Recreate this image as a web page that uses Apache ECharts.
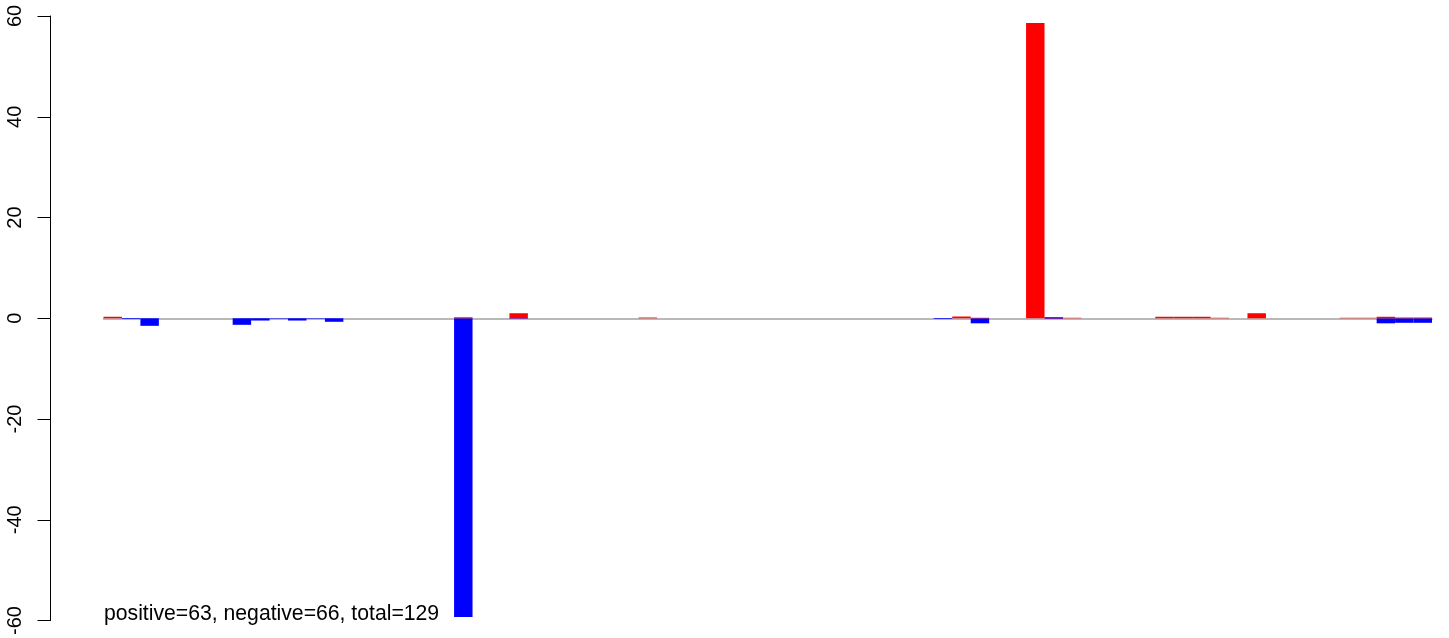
<!DOCTYPE html>
<html>
<head>
<meta charset="utf-8">
<script src="https://cdn.jsdelivr.net/npm/echarts@6/dist/echarts.min.js"></script>
<style>
html,body{margin:0;padding:0;background:#fff;}
#chart{width:1449px;height:638px;}
</style>
</head>
<body>
<div id="chart"></div>
<script>
// 72 bar slots along the x axis (no labels shown)
const slots = Array.from({length: 72}, (_, i) => String(i + 1));
// positive values (red) per slot
const positiveValues = [
  0.3, 0, 0, 0, 0, 0, 0, 0, 0, 0,
  0, 0, 0, 0, 0, 0, 0, 0, 0, 0.2,
  0, 0, 1.0, 0, 0, 0, 0, 0, 0, 0.15,
  0, 0, 0, 0, 0, 0, 0, 0, 0, 0,
  0, 0, 0, 0, 0, 0, 0.35, 0.1, 0, 0,
  58.6, 0.25, 0.1, 0, 0, 0, 0, 0.3, 0.3, 0.3,
  0.1, 0, 1.0, 0, 0, 0, 0, 0.1, 0.1, 0.3,
  0.15, 0.15
];
// negative values (blue) per slot
const negativeValues = [
  0, -0.15, -1.5, 0, 0, 0, 0, -1.3, -0.45, -0.1,
  -0.45, -0.1, -0.7, 0, 0, 0, 0, 0, 0, -59.3,
  0, 0, -0.1, 0, 0, 0, 0, 0, 0, 0,
  0, 0, 0, 0, 0, 0, 0, 0, 0, 0,
  0, 0, 0, 0, 0, -0.15, 0, -1.0, 0, 0,
  0, -0.15, 0, 0, 0, 0, 0, 0, 0, 0,
  0, 0, 0, 0, 0, 0, 0, 0, 0, -1.0,
  -0.9, -0.9
];
const yTicks = [-60, -40, -20, 0, 20, 40, 60];
const noteText = 'positive=63, negative=66, total=129';

const chart = echarts.init(document.getElementById('chart'), null, {renderer: 'canvas'});
const FONT = '"Liberation Sans", Arial, Helvetica, sans-serif';
chart.setOption({
  animation: false,
  backgroundColor: '#ffffff',
  grid: {left: 103.5, right: 17, top: 16, bottom: 13.7, containLabel: false},
  xAxis: {
    type: 'category',
    data: slots,
    boundaryGap: true,
    axisLine: {show: true, onZero: true, lineStyle: {color: '#a3a3a3', width: 1.6}},
    axisTick: {show: false},
    axisLabel: {show: false},
    splitLine: {show: false}
  },
  yAxis: {
    type: 'value',
    min: yTicks[0],
    max: yTicks[yTicks.length - 1],
    interval: 20,
    offset: 53,
    axisLine: {show: true, lineStyle: {color: '#000', width: 1}},
    axisTick: {show: true, length: 13, inside: false, lineStyle: {color: '#000', width: 1}},
    axisLabel: {
      show: true, rotate: 90, margin: 25, color: '#000',
      fontFamily: FONT, fontSize: 20,
      formatter: v => yTicks.includes(v) ? String(v) : ''
    },
    splitLine: {show: false}
  },
  series: [
    {
      name: 'negative', type: 'bar', stack: 'all',
      data: negativeValues,
      barCategoryGap: '0%',
      z: 6,
      itemStyle: {color: '#0000ff'}
    },
    {
      name: 'positive', type: 'bar', stack: 'all',
      data: positiveValues,
      barCategoryGap: '0%',
      z: 6,
      itemStyle: {color: '#ff0000'}
    }
  ],
  graphic: [{
    type: 'text', left: 104, top: 604,
    style: {text: noteText, fill: '#000', font: '21.2px ' + FONT}
  }]
});
</script>
</body>
</html>
